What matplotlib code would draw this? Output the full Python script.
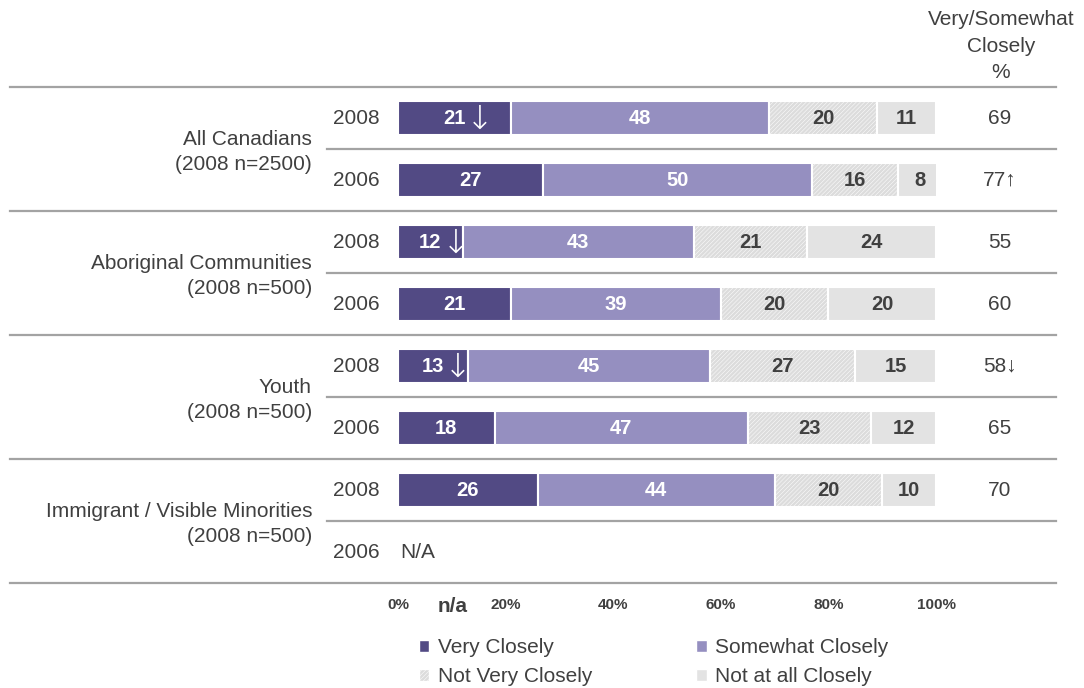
import numpy as np
import matplotlib
matplotlib.use("Agg")
import matplotlib.pyplot as plt
import matplotlib.transforms as mtransforms
from matplotlib.patches import Patch

plt.rcParams['font.family'] = ['Liberation Sans', 'DejaVu Sans']
plt.rcParams['hatch.linewidth'] = 0.35

# survey results (% of respondents)
groups = ['All Canadians\n(2008 n=2500)', 'Aboriginal Communities\n(2008 n=500)',
          'Youth\n(2008 n=500)', 'Immigrant / Visible Minorities\n(2008 n=500)']
years = ['2008', '2006', '2008', '2006', '2008', '2006', '2008', '2006']
very = [21, 27, 12, 21, 13, 18, 26, np.nan]
somewhat = [48, 50, 43, 39, 45, 47, 44, np.nan]
not_very = [20, 16, 21, 20, 27, 23, 20, np.nan]
not_at_all = [11, 8, 24, 20, 15, 12, 10, np.nan]
very_flag = ['↓', '', '↓', '', '↓', '', '', '']
net_flag = ['', '↑', '', '', '↓', '', '', '']
ticks = [0, 20, 40, 60, 80, 100]
series_names = ['Very Closely', 'Somewhat Closely', 'Not Very Closely', 'Not at all Closely']

txt = '#404040'
line_col = '#a3a3a3'
colors = ['#524a84', '#958fc0', '#dcdcdc', '#e3e3e3']
label_cols = ['white', 'white', txt, txt]
hatches = [None, None, '////////', None]

W, H = 1084, 688
fig = plt.figure(figsize=(W / 100, H / 100), dpi=100)
ax = fig.add_axes([398 / W, 1 - 583 / H, 538 / W, 496 / H])
ax.set_xlim(0, 100)
ax.set_ylim(7.5, -0.5)
ax.axis('off')

fx_dy = mtransforms.blended_transform_factory(fig.transFigure, ax.transData)
dx_fy = mtransforms.blended_transform_factory(ax.transData, fig.transFigure)

rows = np.arange(len(years))
data = [very, somewhat, not_very, not_at_all]
left = np.zeros(len(rows))
for i, vals in enumerate(data):
    vals = np.array(vals, dtype=float)
    ax.barh(rows, np.nan_to_num(vals), left=left, height=0.56, color=colors[i],
            edgecolor='white', linewidth=1.5, hatch=hatches[i])
    for r in rows:
        if np.isnan(vals[r]):
            continue
        t = ax.text(left[r] + vals[r] / 2, r, '%d' % vals[r], ha='center', va='center',
                    fontsize=14.5, fontweight='bold', color=label_cols[i])
        if i == 0 and very_flag[r]:
            # significance arrow hangs off the right of the number
            ax.annotate(very_flag[r], xy=(1, 0.5), xycoords=t, xytext=(0, -1),
                        textcoords='offset points', ha='left', va='center',
                        fontsize=24, color='white', family='DejaVu Sans',
                        fontweight='light')
    left += np.nan_to_num(vals)

ax.text(0.5, 7, 'N/A', ha='left', va='center', fontsize=15, color=txt)

# row / group separators
for b in np.arange(-0.5, 8, 1):
    x0 = 10 / W if (b + 0.5) % 2 == 0 else 327 / W
    ax.plot([x0, 1056 / W], [b, b], color=line_col, lw=1.6, transform=fx_dy,
            clip_on=False)

# year labels
for r, y in enumerate(years):
    ax.text(380 / W, r, y, ha='right', va='center', fontsize=15, color=txt,
            transform=fx_dy)

# group labels
for g, name in enumerate(groups):
    ax.text(312 / W, 2 * g + 0.55, name, ha='right', va='center', fontsize=15,
            color=txt, linespacing=1.38, transform=fx_dy)

# net column
ax.text(1001 / W, 1 - 46 / H, 'Very/Somewhat\nClosely\n%', ha='center', va='center',
        fontsize=15, color=txt, linespacing=1.5, transform=fig.transFigure)
for r in rows:
    if np.isnan(very[r]):
        continue
    net = very[r] + somewhat[r]
    ax.text(1000 / W, r, '%d%s' % (net, net_flag[r]), ha='center', va='center',
            fontsize=15, color=txt, transform=fx_dy)

# x tick labels
for t in ticks:
    ax.text(t, 1 - 605 / H, '%d%%' % t, ha='center', va='center', fontsize=11,
            fontweight='bold', color=txt, transform=dx_fy)
ax.text(10.2, 1 - 607 / H, 'n/a', ha='center', va='center', fontsize=15,
        fontweight='bold', color=txt, transform=dx_fy)

handles = [Patch(facecolor=colors[i], edgecolor='white', hatch=hatches[i],
                 label=series_names[i]) for i in [0, 2, 1, 3]]
fig.legend(handles=handles, ncol=2, loc='upper left',
           bbox_to_anchor=(419 / W, 1 - 638 / H), frameon=False, fontsize=15,
           labelcolor=txt, handlelength=0.5, handleheight=0.5, handletextpad=0.4,
           columnspacing=5.0, borderaxespad=0, borderpad=0, labelspacing=0.5)

fig.savefig('out.png', dpi=100)
